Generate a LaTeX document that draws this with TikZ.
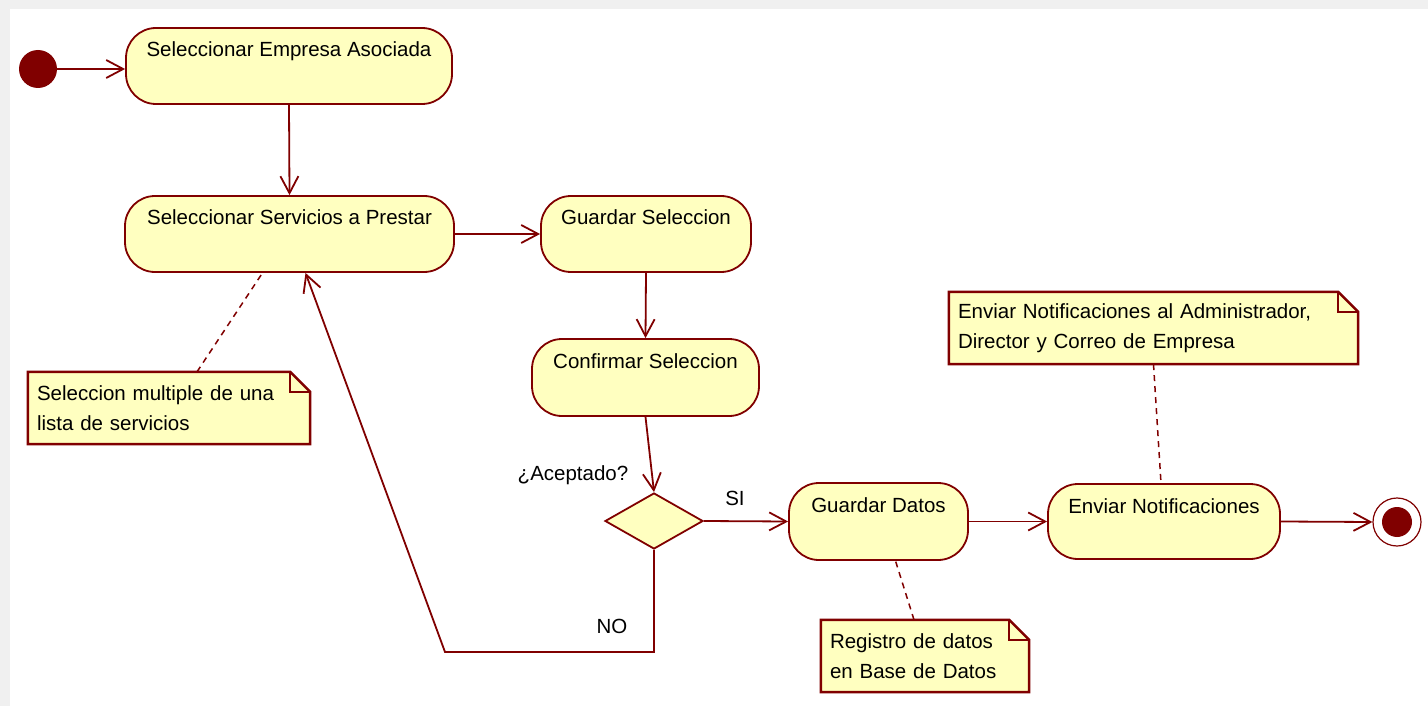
\documentclass[tikz,border=0pt]{standalone}
\usepackage{fontspec}
\setmainfont{Liberation Sans}
\usetikzlibrary{arrows.meta,shapes.geometric,backgrounds}
\definecolor{rr}{HTML}{800000}
\definecolor{fillY}{HTML}{FFFFC0}
\definecolor{bandgray}{HTML}{F0F0F0}
\tikzset{
  action/.style={rectangle, rounded corners=30pt, draw=rr, fill=fillY, line width=1.8pt,
    inner sep=0pt, text height=29pt},
  decision/.style={diamond, draw=rr, fill=fillY, line width=1.8pt, inner sep=0pt,
    minimum width=98pt, minimum height=56pt, aspect=1.75},
  note/.style={rectangle, inner xsep=9pt, inner ysep=0pt, align=left, minimum height=72pt},
  noteshape/.style={draw=rr, fill=fillY, line width=2.5pt},
  flow/.style={draw=rr, line width=1.8pt, -{Straight Barb[length=17pt,width=18pt]}},
  link/.style={draw=rr, line width=1.5pt, dash pattern=on 6pt off 5pt},
  lbl/.style={inner sep=0pt, anchor=base}
}
\begin{document}
\begin{tikzpicture}[x=1pt, y=-1pt, font=\fontsize{20.5}{30}\selectfont]
\useasboundingbox (0,0) rectangle (1428,706);
\begin{scope}[on background layer]
  \fill[white] (0,0) rectangle (1428,706);
  \fill[bandgray] (0,0) rectangle (1428,9);
  \fill[bandgray] (0,0) rectangle (10,706);
\end{scope}

% start / end
\node[circle, fill=rr, minimum size=38pt, inner sep=0pt] (init) at (38,69) {};
\node[circle, draw=rr, line width=1.2pt, fill=white, minimum size=48pt, inner sep=0pt] (fin) at (1397,522) {};
\node[circle, fill=rr, minimum size=30pt, inner sep=0pt] (finc) at (fin) {};

% actions
\node[action, minimum width=326pt, text depth=47pt] (n1) at (289,66) {Seleccionar Empresa Asociada};
\node[action, minimum width=329pt, text depth=47pt] (n2) at (289.5,234) {Seleccionar Servicios a Prestar};
\node[action, minimum width=210pt, text depth=47pt] (n3) at (646,234) {Guardar Seleccion};
\node[action, minimum width=227pt, text depth=48pt] (n4) at (645.5,377.5) {Confirmar Seleccion};
\node[decision] (d) at (654,521) {};
\node[action, minimum width=179pt, text depth=48pt] (n5) at (878.5,521.5) {Guardar Datos};
\node[action, minimum width=232pt, text depth=46pt] (n6) at (1164,521.5) {Enviar Notificaciones};

% notes
\node[note, minimum width=282pt, text width=264pt] (m1) at (169,408) {Seleccion multiple de una\\lista de servicios};
\node[note, minimum width=208pt, text width=190pt] (m2) at (925,656) {Registro de datos\\en Base de Datos};
\node[note, minimum width=409pt, text width=391pt] (m3) at (1153.5,328) {Enviar Notificaciones al Administrador,\\Director y Correo de Empresa};
\begin{scope}[on background layer]
  \foreach \m in {m1,m2,m3}{
    \path[noteshape] (\m.north west) -- ([xshift=-20pt]\m.north east) -- ([yshift=-20pt]\m.north east)
      -- (\m.south east) -- (\m.south west) -- cycle;
    \draw[rr, line width=1.5pt] ([xshift=-20pt]\m.north east) -- ([xshift=-20pt,yshift=-20pt]\m.north east)
      -- ([yshift=-20pt]\m.north east);
  }
\end{scope}

% labels
\node[lbl] (acep) at (573,480) {¿Aceptado?};
\node[lbl] (si) at (735,505) {SI};
\node[lbl] (no) at (612,633) {NO};

% flows
\draw[flow] (init.east) -- (init -| n1.west);
\draw[flow] (n1.south) -- (n2.north);
\draw[flow] (n2.east) -- (n3.west);
\draw[flow] (n3.south) -- (n4.north);
\draw[flow] (n4.south) -- (d.north);
\draw[flow] (d.east) -- (n5.west);
\draw[flow] (n5.east) -- (n6.west);
\draw[flow] (n6.east) -- (fin.west);
\coordinate (nocorner) at (445,652);
\draw[flow] (d.south) |- (nocorner) -- ([xshift=16pt]n2.south);

% note links
\draw[link] ([xshift=28pt]m1.north) -- ([xshift=-27pt]n2.south);
\draw[link] ([xshift=-11pt]m2.north) -- ([xshift=17pt]n5.south);
\draw[link] (m3.south) -- ([xshift=-3pt]n6.north);
\end{tikzpicture}
\end{document}
